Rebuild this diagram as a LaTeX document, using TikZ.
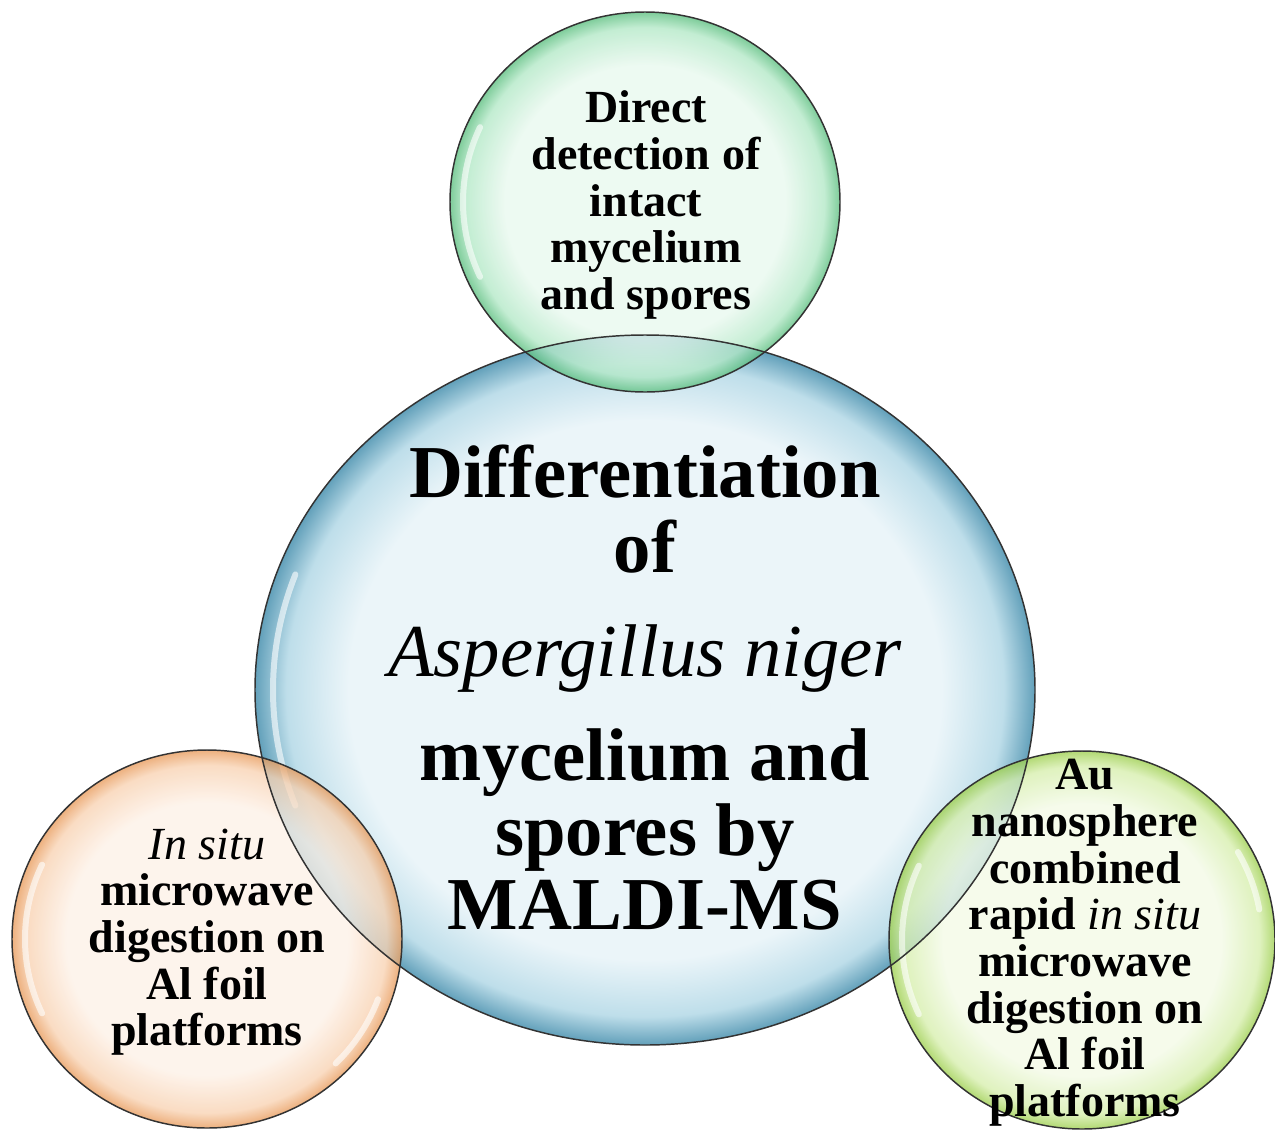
\documentclass[tikz,border=0pt]{standalone}
\usepackage{fontspec}
\setmainfont{Liberation Serif}

% bubble colours: centre, band, rim
\definecolor{blueIn}{RGB}{235,245,249}
\definecolor{blueMid}{RGB}{190,222,234}
\definecolor{blueOut}{RGB}{98,160,186}
\definecolor{greenIn}{RGB}{232,248,238}
\definecolor{greenMid}{RGB}{178,232,198}
\definecolor{greenOut}{RGB}{90,190,126}
\definecolor{orangeIn}{RGB}{253,241,231}
\definecolor{orangeMid}{RGB}{248,210,178}
\definecolor{orangeOut}{RGB}{232,154,90}
\definecolor{limeIn}{RGB}{243,250,230}
\definecolor{limeMid}{RGB}{214,238,172}
\definecolor{limeOut}{RGB}{156,206,76}

\pgfdeclareradialshading{bubbleBlue}{\pgfpoint{0bp}{0bp}}{color(0bp)=(blueIn); color(19bp)=(blueIn); color(23bp)=(blueMid); color(25bp)=(blueOut); color(50bp)=(blueOut)}
\pgfdeclareradialshading{bubbleGreen}{\pgfpoint{0bp}{0bp}}{color(0bp)=(greenIn); color(18bp)=(greenIn); color(23bp)=(greenMid); color(25bp)=(greenOut); color(50bp)=(greenOut)}
\pgfdeclareradialshading{bubbleOrange}{\pgfpoint{0bp}{0bp}}{color(0bp)=(orangeIn); color(18bp)=(orangeIn); color(23bp)=(orangeMid); color(25bp)=(orangeOut); color(50bp)=(orangeOut)}
\pgfdeclareradialshading{bubbleLime}{\pgfpoint{0bp}{0bp}}{color(0bp)=(limeIn); color(18bp)=(limeIn); color(23bp)=(limeMid); color(25bp)=(limeOut); color(50bp)=(limeOut)}

\tikzset{
  rim/.style={draw=black!80, line width=1.1pt},
  gloss/.style={white, line width=4.5pt, line cap=round, opacity=0.6},
  bigtext/.style={align=center, inner sep=0pt, font=\fontsize{56}{56}\selectfont\bfseries},
  smalltext/.style={align=center, inner sep=0pt, font=\fontsize{34.5}{35}\selectfont\bfseries}
}

\begin{document}
\begin{tikzpicture}[x=0.75pt,y=0.75pt,yscale=-1,xscale=1]
\useasboundingbox (0,0) rectangle (1275,1129);

\coordinate (cMain) at (645,690);
\coordinate (cTop) at (645,202);
\coordinate (cLeft) at (207,939);
\coordinate (cRight) at (1082,940);

%Shape: Ellipse [main]
\shade[shading=bubbleBlue] (cMain) ellipse [x radius=390, y radius=355];
\draw[gloss] ([shift={(160:372 and 338)}]cMain) arc [start angle=160, end angle=200, x radius=372, y radius=338];
%Shape: Ellipse [top]
\shade[shading=bubbleGreen, fill opacity=0.78] (cTop) ellipse [x radius=195, y radius=190];
\draw[gloss] ([shift={(155:182 and 177)}]cTop) arc [start angle=155, end angle=205, x radius=182, y radius=177];
%Shape: Ellipse [left]
\shade[shading=bubbleOrange, fill opacity=0.78] (cLeft) ellipse [x radius=195, y radius=189];
\draw[gloss] ([shift={(155:182 and 176)}]cLeft) arc [start angle=155, end angle=205, x radius=182, y radius=176];
\draw[gloss] ([shift={(20:182 and 176)}]cLeft) arc [start angle=20, end angle=45, x radius=182, y radius=176];
%Shape: Ellipse [right]
\shade[shading=bubbleLime, fill opacity=0.78] (cRight) ellipse [x radius=193, y radius=189];
\draw[gloss] ([shift={(155:180 and 176)}]cRight) arc [start angle=155, end angle=205, x radius=180, y radius=176];
\draw[gloss] ([shift={(330:180 and 176)}]cRight) arc [start angle=330, end angle=350, x radius=180, y radius=176];

% outlines
\draw[rim] (cMain) ellipse [x radius=390, y radius=355];
\draw[rim] (cTop) ellipse [x radius=195, y radius=190];
\draw[rim] (cLeft) ellipse [x radius=195, y radius=189];
\draw[rim] (cRight) ellipse [x radius=193, y radius=189];

% Text Node
\node[bigtext] (mainText) at (645,688) {Differentiation\\ of\\[22pt] {\mdseries\itshape Aspergillus niger}\\[22pt] mycelium and\\ spores by\\ MALDI-MS};
% Text Node
\node[smalltext] (topText) at (646,205) {Direct\\ detection of\\ intact\\ mycelium\\ and spores};
% Text Node
\node[smalltext] (leftText) at (207,942) {{\mdseries\itshape In situ}\\ microwave\\ digestion on\\ Al foil\\ platforms};
% Text Node
\node[smalltext] (rightText) at (1085,943) {Au\\ nanosphere\\ combined\\ rapid {\mdseries\itshape in situ}\\ microwave\\ digestion on\\ Al foil\\ platforms};

\end{tikzpicture}
\end{document}
